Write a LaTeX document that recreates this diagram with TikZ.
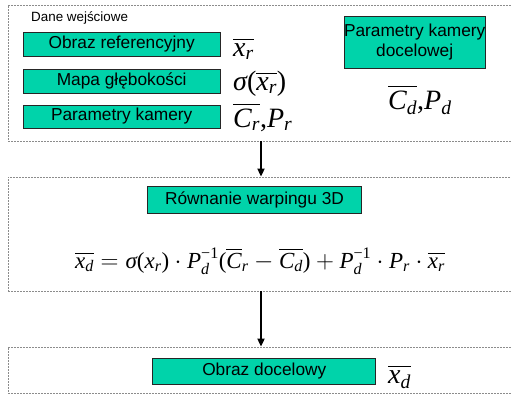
\documentclass[tikz,border=0pt]{standalone}
\usepackage{amsmath}
\usepackage{fontspec}
\setmainfont{Liberation Sans}
\newfontfamily\lserif{Liberation Serif}
\newcommand\mi[1]{\text{\lserif\itshape #1}}
\newcommand\mr[1]{\text{\lserif #1}}
\usetikzlibrary{arrows.meta}
\definecolor{tealg}{RGB}{0,211,170}
\begin{document}
\begin{tikzpicture}[x=1pt,y=-1pt,
 panel/.style={draw=black!45, dash pattern=on 2pt off 1pt, line width=0.8pt, inner sep=0pt},
 gbox/.style={draw=black!85, fill=tealg, line width=1pt, inner sep=0pt, font=\fontsize{17.3}{20}\selectfont, align=center},
 lbl/.style={anchor=base west, inner sep=0pt, font=\fontsize{28}{30}\selectfont},
 arr/.style={-{Triangle[length=8pt,width=7pt]}, line width=1.8pt}
]
\useasboundingbox (0,0) rectangle (511,394);
% panels
\node[panel, minimum width=506pt, minimum height=136pt] (in) at (261,73) {};
\node[panel, minimum width=506pt, minimum height=114pt] (warp) at (261,234) {};
\node[panel, minimum width=506pt, minimum height=46pt] (outp) at (261,370) {};
% input panel
\node[anchor=west, inner sep=0pt, font=\fontsize{13.4}{15}\selectfont] (dane) at (31,18) {Dane wejściowe};
\node[gbox, minimum width=197pt, minimum height=24pt] (ref) at (121.7,44) {Obraz referencyjny};
\node[gbox, minimum width=197pt, minimum height=24pt] (depth) at (121.7,81) {Mapa głębokości};
\node[gbox, minimum width=197pt, minimum height=23pt] (cam) at (121.7,116.5) {Parametry kamery};
\node[gbox, minimum width=141pt, minimum height=52pt] (camd) at (414.7,42.5) {Parametry kamery\\docelowej};
\node[lbl] (xr) at (233,56) {$\overline{\mi{x}_{\mi{r}}}$};
\node[lbl] (sx) at (233,90) {$\mi{σ}\mr{(}\overline{\mi{x}_{\mi{r}}}\mr{)}$};
\node[lbl] (cr) at (233,127) {$\overline{\mi{C}_{\mi{r}}}\mr{,}\mi{P}_{\mi{r}}$};
\node[lbl] (cd) at (388,109) {$\overline{\mi{C}_{\mi{d}}}\mr{,}\mi{P}_{\mi{d}}$};
% warp panel
\node[gbox, minimum width=214pt, minimum height=27pt] (weq) at (254.5,200) {Równanie warpingu 3D};
\node[anchor=base, inner sep=0pt, font=\fontsize{23}{26}\selectfont] (eq) at (260,268)
 {$\overline{\mi{x}_{\mi{d}}} = \mi{σ}\mr{(}\mi{x}_{\mi{r}}\mr{)}\cdot \mi{P}_{\mi{d}}^{\mr{−1}}\mr{(}\overline{\mi{C}}_{\mi{r}} - \overline{\mi{C}_{\mi{d}}}\mr{)} + \mi{P}_{\mi{d}}^{\mr{−1}}\cdot \mi{P}_{\mi{r}}\cdot \overline{\mi{x}_{\mi{r}}}$};
% output panel
\node[gbox, minimum width=223pt, minimum height=26pt] (res) at (264.3,371) {Obraz docelowy};
\node[lbl] (xd) at (388,383) {$\overline{\mi{x}_{\mi{d}}}$};
% arrows
\draw[arr] (in.south) -- (warp.north);
\draw[arr] (warp.south) -- (outp.north);
\end{tikzpicture}
\end{document}
